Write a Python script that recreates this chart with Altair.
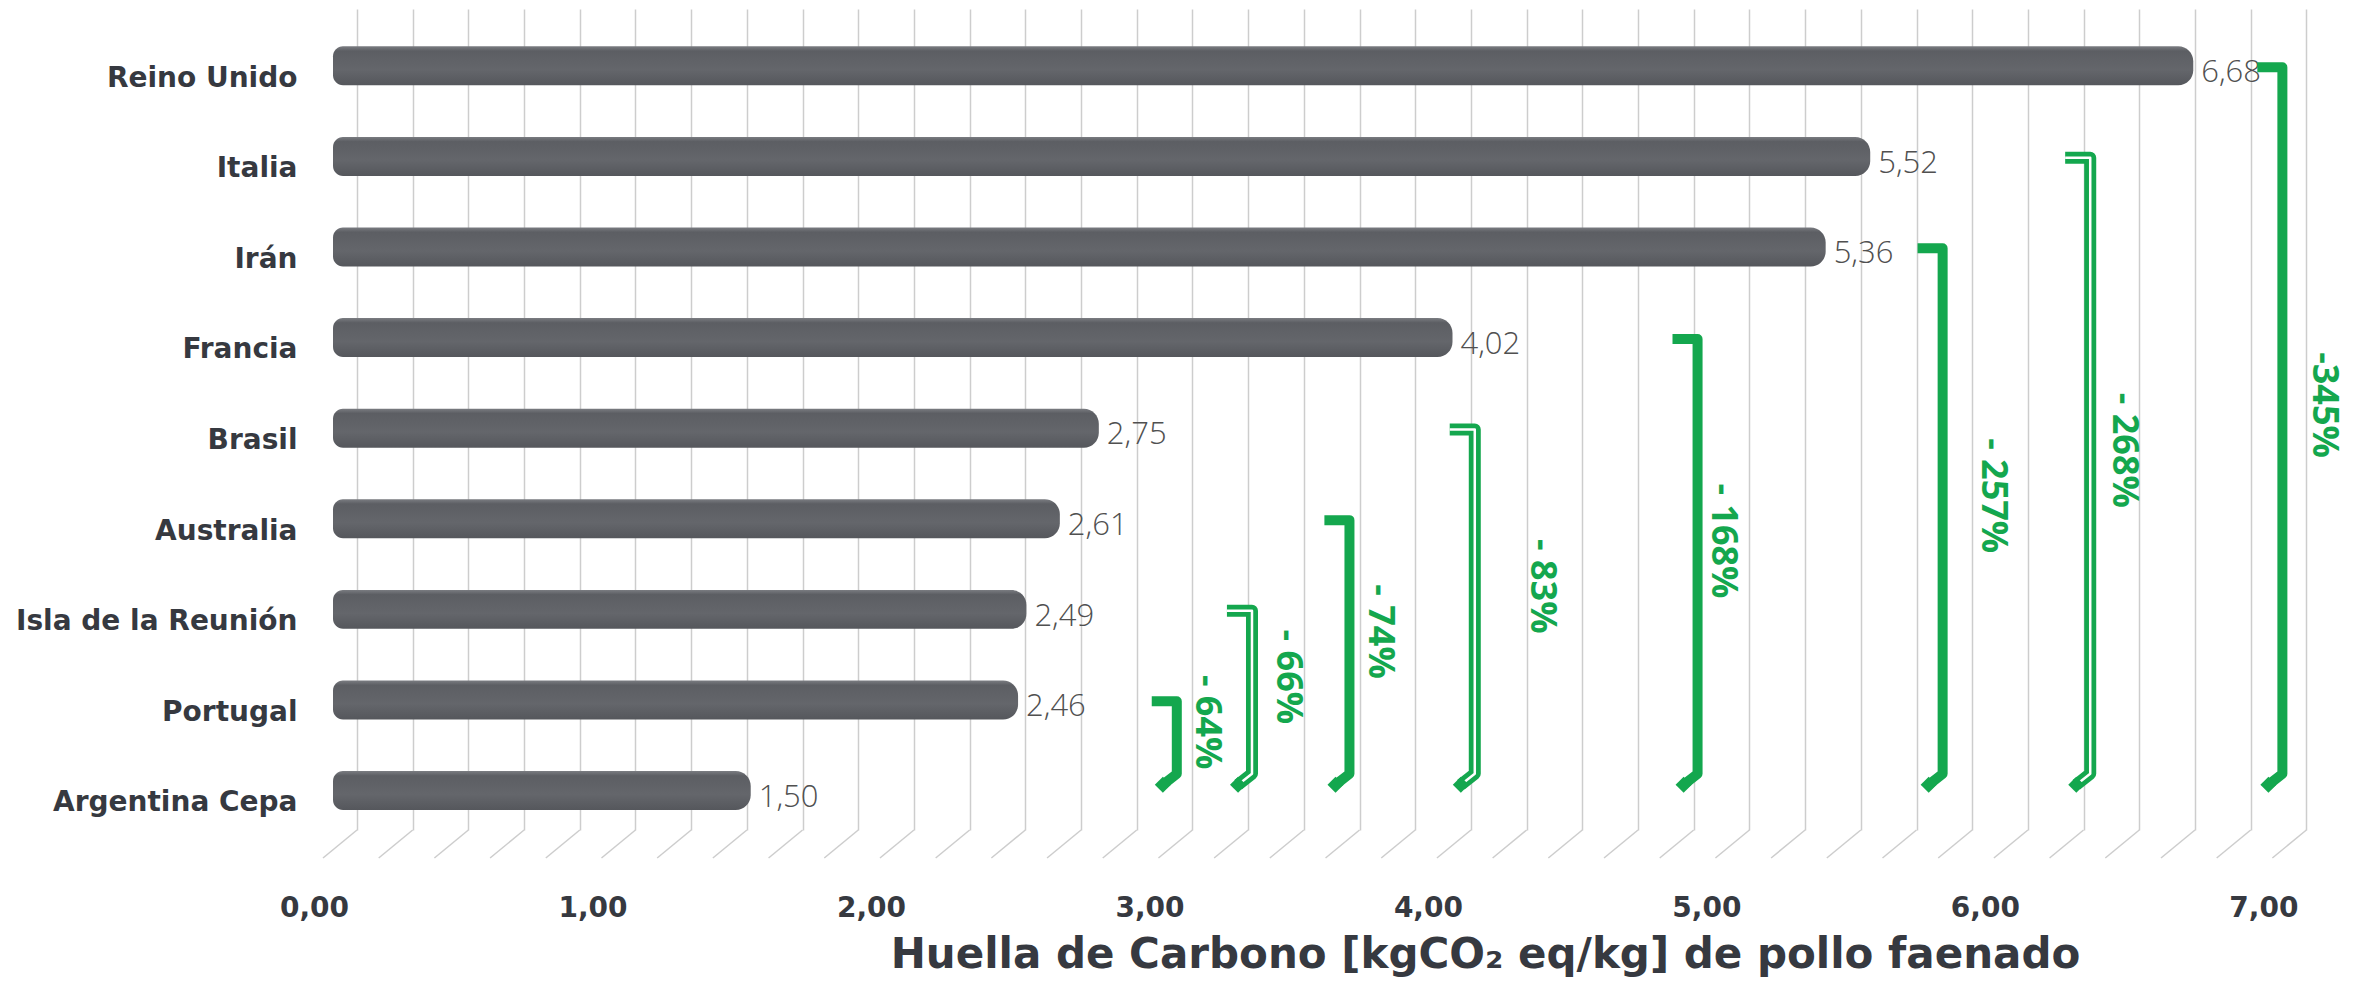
import json
import altair as alt
import pandas as pd

# ---------------- data ----------------
countries = ["Reino Unido", "Italia", "Irán", "Francia", "Brasil", "Australia",
             "Isla de la Reunión", "Portugal", "Argentina Cepa"]
values = [6.68, 5.52, 5.36, 4.02, 2.75, 2.61, 2.49, 2.46, 1.50]
value_text = ["6,68", "5,52", "5,36", "4,02", "2,75", "2,61", "2,49", "2,46", "1,50"]

bracket_country = ["Portugal", "Isla de la Reunión", "Australia", "Brasil",
                   "Francia", "Irán", "Italia", "Reino Unido"]
bracket_x = [3.03, 3.30, 3.65, 4.10, 4.90, 5.78, 6.31, 7.00]
bracket_label_x = [3.14, 3.43, 3.76, 4.34, 4.99, 5.96, 6.43, 7.15]
bracket_text = ["- 64%", "- 66%", "- 74%", "- 83%", "- 168%", "- 257%", "- 268%", "-345%"]
bracket_double = [False, True, False, True, False, False, True, False]

tick_values = [round(i * 0.2, 1) for i in range(36)]
x_title = "Huella de Carbono [kgCO₂ eq/kg] de pollo faenado"

# ---------------- styling ----------------
W, H = 2019, 821
FONT = "Open Sans"
BOLD_FONT = "DejaVu Sans"
GREEN = "#14a74e"
DARK = "#363940"

idx = {c: i for i, c in enumerate(countries)}
base_row = len(countries) - 1

bars_df = pd.DataFrame({"country": countries, "value": values,
                        "label": value_text, "idx": list(range(len(countries)))})

rows = []
for k, (c, bx) in enumerate(zip(bracket_country, bracket_x)):
    top = idx[c] - 0.12
    bot = base_row - 0.32
    pts = [(bx - 0.09, top), (bx, top), (bx, bot), (bx - 0.05, bot + 0.12)]
    for o, (px, py) in enumerate(pts):
        rows.append({"b": k, "o": o, "x": px, "y": py, "double": bracket_double[k]})
line_df = pd.DataFrame(rows)
ends_df = line_df[line_df.o == 3].copy()
text_df = pd.DataFrame({
    "text": bracket_text,
    "x": bracket_label_x,
    "y": [((idx[c] - 0.22) + (base_row - 0.22)) / 2 - 0.17 for c in bracket_country],
})
grid_df = pd.DataFrame({"v": tick_values})

x_scale = alt.Scale(domain=[0, 7.25], nice=False, zero=False)
y_scale = alt.Scale(domain=[-0.762, 8.30], reverse=True, nice=False, zero=False)

x_axis = alt.Axis(
    values=tick_values, grid=True, gridColor="#cdcdcd", gridWidth=1.5,
    domain=False, ticks=False, tickOffset=24, labelOffset=-43,
    labelExpr="abs(datum.value - round(datum.value)) < 0.01 ? replace(format(datum.value, '.2f'), '.', ',') : ''",
    labelOverlap=False, labelFlush=False, labelBound=False,
    labelFont=BOLD_FONT, labelFontSize=28, labelFontWeight="bold", labelColor=DARK,
    labelPadding=64,
    titleFont=BOLD_FONT, titleFontSize=42, titleFontWeight="bold", titleColor=DARK,
    titlePadding=12, titleX=1152, titleAlign="center",
)
y_axis = alt.Axis(
    values=list(range(len(countries))),
    labelExpr=json.dumps(countries, ensure_ascii=False) + "[datum.value]",
    grid=False, domain=False, ticks=False, labelOverlap=False, labelLimit=600,
    labelFont=BOLD_FONT, labelFontSize=28, labelFontWeight="bold", labelColor=DARK,
    labelPadding=36, labelBaseline="middle",
)


def X(f):
    return alt.X(f, type="quantitative", scale=x_scale, axis=x_axis, title=x_title)


def Y(f):
    return alt.Y(f, type="quantitative", scale=y_scale, axis=y_axis, title=None)


diag = alt.Chart(grid_df).mark_rule(
    color="#cdcdcd", strokeWidth=1.5, xOffset=24, x2Offset=-10
).encode(
    x=X("v"), x2=alt.X2("v"), y=alt.value(H), y2=alt.value(H + 28)
)

bar_fill = alt.Gradient(
    gradient="linear", x1=0, x2=0, y1=0, y2=1,
    stops=[alt.GradientStop(color="#7a7c81", offset=0),
           alt.GradientStop(color="#5c5e63", offset=0.12),
           alt.GradientStop(color="#64666b", offset=0.6),
           alt.GradientStop(color="#55575c", offset=1)],
)
bars = alt.Chart(bars_df).transform_calculate(
    zero="0", ytop="datum.idx - 0.35", ybot="datum.idx + 0.08"
).mark_rect(
    color=bar_fill,
    cornerRadiusTopLeft=10, cornerRadiusBottomLeft=10,
    cornerRadiusTopRight=15, cornerRadiusBottomRight=15,
).encode(
    x=X("zero"), x2=alt.X2("value"), y=Y("ytop"), y2=alt.Y2("ybot")
)

vals = alt.Chart(bars_df).mark_text(
    align="left", baseline="middle", dx=8, yOffset=-5,
    font=FONT, fontSize=31, fontWeight=300, color="#505050"
).encode(x=X("value"), y=Y("idx"), text="label:N")

lines = alt.Chart(line_df).transform_filter("!datum.double").mark_line(
    color=GREEN, strokeWidth=10, strokeJoin="round", strokeCap="butt"
).encode(x=X("x"), y=Y("y"), detail="b:N", order="o:Q")

lines_double = alt.Chart(line_df).transform_filter("datum.double").mark_line(
    color=GREEN, strokeWidth=12, strokeJoin="round", strokeCap="butt"
).encode(x=X("x"), y=Y("y"), detail="b:N", order="o:Q")

whites = alt.Chart(line_df).transform_filter("datum.double").mark_line(
    color="white", strokeWidth=2.5, strokeJoin="round"
).encode(x=X("x"), y=Y("y"), detail="b:N", order="o:Q")

ends = alt.Chart(ends_df).mark_point(
    shape="diamond", filled=True, size=260, color=GREEN, opacity=1
).encode(x=X("x"), y=Y("y"))

texts = alt.Chart(text_df).mark_text(
    angle=90, align="center", baseline="middle",
    font=FONT, fontSize=36, fontWeight="bold", color=GREEN
).encode(x=X("x"), y=Y("y"), text="text:N")

chart = alt.layer(diag, bars, vals, lines, lines_double, whites, ends, texts).properties(
    width=W, height=H,
    padding={"left": 325, "top": 1, "right": 10, "bottom": 148},
    autosize=alt.AutoSizeParams(type="none"),
).configure_view(stroke=None)

chart.save("out.html", embed_options={"renderer": "svg", "actions": False})
